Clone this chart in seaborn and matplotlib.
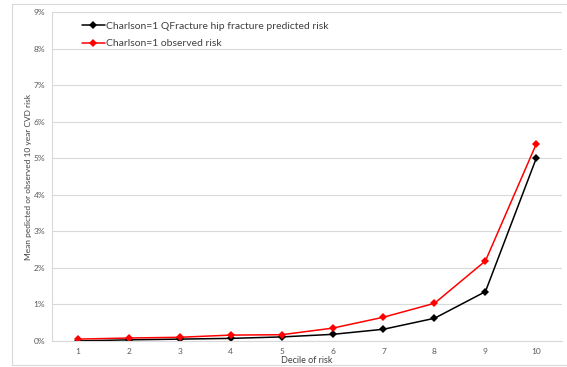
import matplotlib
matplotlib.use("Agg")
import matplotlib.pyplot as plt
import seaborn as sns
import pandas as pd
from matplotlib.patches import Rectangle
from matplotlib.ticker import FuncFormatter

# Values (percent)
deciles = [1, 2, 3, 4, 5, 6, 7, 8, 9, 10]
predicted = [0.00, 0.03, 0.05, 0.07, 0.11, 0.18, 0.32, 0.62, 1.35, 5.01]
observed = [0.05, 0.08, 0.10, 0.16, 0.17, 0.35, 0.65, 1.03, 2.19, 5.40]
pred_label = "Charlson=1 QFracture hip fracture predicted risk"
obs_label = "Charlson=1 observed risk"

df = pd.DataFrame({
    "decile": deciles * 2,
    "risk": predicted + observed,
    "series": [pred_label] * len(deciles) + [obs_label] * len(deciles),
})

sns.set_style("white")
plt.rcParams["font.family"] = ["Lato", "DejaVu Sans"]

fig = plt.figure(figsize=(5.67, 3.67), dpi=100)
ax = fig.add_axes([0.092, 0.071, 0.899, 0.896])

# outer chart frame
fig.patches.append(Rectangle((12 / 567, 0.005), 0.99, 0.985, transform=fig.transFigure,
                             fill=False, edgecolor="#d9d9d9", linewidth=0.8))

sns.lineplot(data=df, x="decile", y="risk", hue="series",
             palette={pred_label: "black", obs_label: "#ff0000"},
             marker="D", markersize=4.5, markeredgewidth=0, linewidth=1.1,
             ax=ax)

ax.set_xlim(0.5, 10.5)
ax.set_ylim(0, 9)
ax.set_xticks(deciles)
ax.set_yticks(range(0, 10))
ax.yaxis.set_major_formatter(FuncFormatter(lambda v, p: f"{int(v)}%"))
ax.tick_params(axis="both", labelsize=6, colors="#595959", length=0, pad=5)
ax.grid(axis="y", color="#d9d9d9", linewidth=0.8)
ax.set_axisbelow(True)
for side in ["top", "right"]:
    ax.spines[side].set_visible(False)
ax.spines["left"].set_color("#d9d9d9")
ax.spines["bottom"].set_color("#d9d9d9")
ax.spines["left"].set_linewidth(0.8)
ax.spines["bottom"].set_linewidth(0.8)

ax.set_xlabel("Decile of risk", fontsize=6.5, color="#404040", labelpad=1)
ax.set_ylabel("Mean pedicted or observed 10 year CVD risk", fontsize=6, color="#404040", labelpad=1)

leg = ax.legend(loc="upper left", bbox_to_anchor=(0.04, 1.0), frameon=False,
                fontsize=7.5, handlelength=2.2, handletextpad=0.1, labelspacing=0.8)
for t in leg.get_texts():
    t.set_color("#404040")

fig.savefig("out.png", dpi=100)
